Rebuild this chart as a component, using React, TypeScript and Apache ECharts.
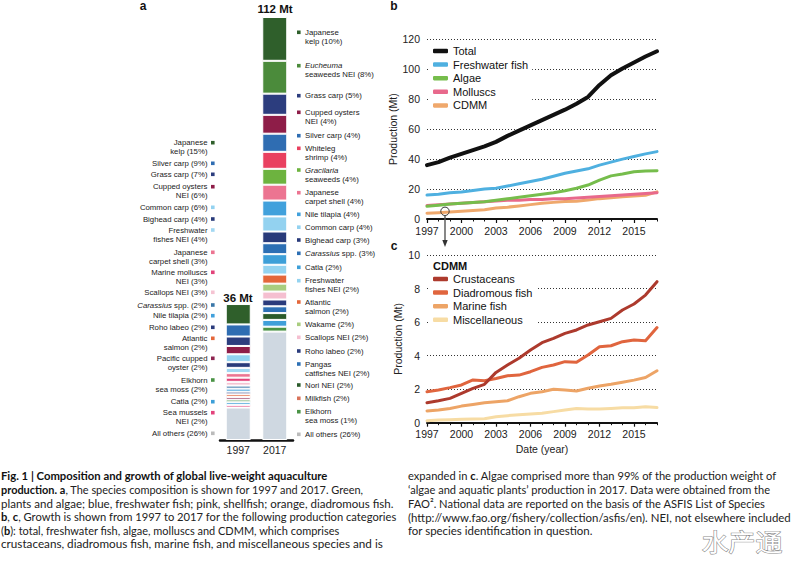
import React, { useEffect, useRef } from 'react';
import * as echarts from 'echarts';

// ---------- DATA ----------
const years = ['1997','1998','1999','2000','2001','2002','2003','2004','2005','2006','2007','2008','2009','2010','2011','2012','2013','2014','2015','2016','2017'];

const totalProd = [36, 38, 41, 43.5, 46, 48.5, 51.5, 55.5, 59, 62.5, 66, 69.5, 73, 77, 81.5, 89.5, 96, 100.5, 104.5, 108.5, 112];
const freshwaterFish = [16, 16.5, 17.5, 18, 19, 20, 20.5, 22, 23.5, 25, 26.5, 28.5, 30.5, 32, 33.5, 36, 38, 40, 41.7, 43.5, 45];
const algae = [8.5, 9.2, 10, 10.5, 11, 11.5, 12.5, 13.5, 14.5, 15.5, 16.5, 17.5, 18.9, 20.5, 22.7, 26, 28.8, 30, 31.5, 32, 32.3];
const molluscs = [9, 9.5, 10, 10.5, 11, 11.5, 12, 12.5, 12.5, 13, 13, 13.5, 13.5, 14, 14.5, 15, 15.5, 16, 16.5, 17, 17.5];
const cdmm = [3.9, 4.2, 4.6, 5.2, 5.7, 6.2, 7.3, 7.9, 8.7, 9.6, 10.5, 11.1, 11.7, 11.9, 12.7, 13.6, 14.2, 14.9, 15.4, 15.9, 18.1];

const crustaceans = [1.19, 1.31, 1.45, 1.75, 2.05, 2.29, 3.0, 3.44, 3.84, 4.33, 4.77, 5.03, 5.33, 5.53, 5.83, 6.02, 6.22, 6.72, 7.08, 7.61, 8.41];
const diadromousFish = [1.85, 1.95, 2.09, 2.25, 2.55, 2.5, 2.64, 2.8, 2.84, 3.04, 3.3, 3.44, 3.64, 3.6, 4.04, 4.53, 4.59, 4.83, 4.93, 4.89, 5.67];
const marineFish = [0.7, 0.76, 0.85, 0.99, 1.09, 1.19, 1.25, 1.31, 1.55, 1.75, 1.85, 1.99, 1.95, 1.89, 2.05, 2.19, 2.29, 2.41, 2.54, 2.7, 3.1];
const miscellaneous = [0.12, 0.16, 0.18, 0.2, 0.22, 0.24, 0.36, 0.42, 0.48, 0.52, 0.56, 0.66, 0.76, 0.85, 0.82, 0.82, 0.85, 0.89, 0.89, 0.95, 0.9];

const barYears = ['1997', '2017'];
const barTotals = ['36 Mt', '112 Mt'];

// 1997 composition, top to bottom
const species1997 = ['Japanese kelp','Silver carp','Grass carp','Cupped oysters NEI','Common carp','Bighead carp','Freshwater fishes NEI','Japanese carpet shell','Marine molluscs NEI','Scallops NEI','Carassius spp.','Nile tilapia','Roho labeo','Atlantic salmon','Pacific cupped oyster','Elkhorn sea moss','Catla','Sea mussels NEI','All others'];
const values1997 = [5.4, 3.2, 2.5, 2.2, 2.1, 1.5, 1.4, 1.2, 1.1, 1.0, 0.8, 0.8, 0.7, 0.7, 0.7, 0.7, 0.7, 0.7, 8.6];
const labels1997 = ['Japanese\nkelp (15%)','Silver carp (9%)','Grass carp (7%)','Cupped oysters\nNEI (6%)','Common carp (6%)','Bighead carp (4%)','Freshwater\nfishes NEI (4%)','Japanese\ncarpet shell (3%)','Marine molluscs\nNEI (3%)','Scallops NEI (3%)','*Carassius* spp. (2%)','Nile tilapia (2%)','Roho labeo (2%)','Atlantic\nsalmon (2%)','Pacific cupped\noyster (2%)','Elkhorn\nsea moss (2%)','Catla (2%)','Sea mussels\nNEI (2%)','All others (26%)'];

// 2017 composition, top to bottom
const species2017 = ['Japanese kelp','Eucheuma seaweeds NEI','Grass carp','Cupped oysters NEI','Silver carp','Whiteleg shrimp','Gracilaria seaweeds','Japanese carpet shell','Nile tilapia','Common carp','Bighead carp','Carassius spp.','Catla','Freshwater fishes NEI','Atlantic salmon','Wakame','Scallops NEI','Roho labeo','Pangas catfishes NEI','Nori NEI','Milkfish','Elkhorn sea moss','All others'];
const values2017 = [11.6, 8.7, 5.6, 5.0, 4.8, 4.5, 4.2, 4.2, 4.2, 4.0, 3.1, 2.9, 2.8, 2.6, 2.4, 2.1, 2.1, 1.8, 1.8, 1.8, 1.8, 1.3, 28.7];
const labels2017 = ['Japanese\nkelp (10%)','*Eucheuma*\nseaweeds NEI (8%)','Grass carp (5%)','Cupped oysters\nNEI (4%)','Silver carp (4%)','Whiteleg\nshrimp (4%)','*Gracilaria*\nseaweeds (4%)','Japanese\ncarpet shell (4%)','Nile tilapia (4%)','Common carp (4%)','Bighead carp (3%)','*Carassius* spp. (3%)','Catla (2%)','Freshwater\nfishes NEI (2%)','Atlantic\nsalmon (2%)','Wakame (2%)','Scallops NEI (2%)','Roho labeo (2%)','Pangas\ncatfishes NEI (2%)','Nori NEI (2%)','Milkfish (2%)','Elkhorn\nsea moss (1%)','All others (26%)'];

// ---------- STYLES / LAYOUT ----------
const colors1997 = ['#2f5f2b','#2f6db2','#2c3d7e','#8e1d48','#93d2f0','#283a7a','#a2d8f2','#ec7491','#e2437a','#f5c3d2','#3a77a8','#41a1dc','#2a3b7c','#e4673a','#8e2450','#4a9345','#3d9fd8','#e3437c','#cfd8e1'];
const colors2017 = ['#2f5f2b','#4b8b3b','#2c3d7e','#8e1d48','#2f6db2','#e9405f','#6db33f','#ec7491','#41a1dc','#93d2f0','#283a7a','#2c6fb4','#3d9fd8','#94d3f0','#e4673a','#a9cd7f','#f5bfd0','#2a3b7c','#2d70b5','#2b5b2b','#3f9fd9','#4a9345','#cfd8e1'];
const markerOverride2017: Record<number, string> = { 20: '#d9735a', 22: '#bbbbbb' };
const markerOverride1997: Record<number, string> = { 18: '#bbbbbb' };

const labelY1997 = [142.7, 163.3, 174.3, 186.7, 207.3, 219, 230, 252.3, 272.3, 292.3, 305, 315.7, 327.3, 338.3, 358.3, 380, 401.7, 412.7, 433.3];
const labelY2017 = [32.3, 65.7, 95.7, 112.3, 135.7, 148.3, 170, 192.7, 214.3, 227.2, 240, 253.3, 267.3, 280.7, 302, 324.3, 337.3, 351, 364, 385, 398.3, 411.7, 434.3];

const FONT = 'Liberation Sans, Arial, Helvetica, sans-serif';
const CAP_FONT = 'Lato';
const CAP_SIZE = 12;

type Seg = [string, string];
const captionLeft: Seg[][] = [
  [['b', 'Fig. 1 | Composition and growth of global live-weight aquaculture']],
  [['b', 'production. a'], ['n', ', The species composition is shown for 1997 and 2017. Green,']],
  [['n', 'plants and algae; blue, freshwater fish; pink, shellfish; orange, diadromous fish.']],
  [['b', 'b'], ['n', ', '], ['b', 'c'], ['n', ', Growth is shown from 1997 to 2017 for the following production categories']],
  [['n', '('], ['b', 'b'], ['n', '): total, freshwater fish, algae, molluscs and CDMM, which comprises']],
  [['n', 'crustaceans, diadromous fish, marine fish, and miscellaneous species and is']],
];
const captionRight: Seg[][] = [
  [['n', 'expanded in '], ['b', 'c'], ['n', '. Algae comprised more than 99% of the production weight of']],
  [['n', '\u2018algae and aquatic plants\u2019 production in 2017. Data were obtained from the']],
  [['n', 'FAO\u00b2. National data are reported on the basis of the ASFIS List of Species']],
  [['n', '(http://www.fao.org/fishery/collection/asfis/en). NEI, not elsewhere included']],
  [['n', 'for species identification in question.']],
];
const capLeftWidths = [327, 363, 393, 396, 339, 382];
const capRightWidths = [369, 363, 358, 383, 185];
const capLineY = [475, 489, 503, 516.5, 530, 543];

function measureSegs(segs: Seg[]): number {
  try {
    const ctx = document.createElement('canvas').getContext('2d');
    if (!ctx) return 0;
    let w = 0;
    for (const [s, t] of segs) {
      ctx.font = `${s === 'b' ? 'bold ' : ''}${CAP_SIZE}px ${CAP_FONT}`;
      w += ctx.measureText(t).width;
    }
    return w;
  } catch (e) {
    return 0;
  }
}

function richLabel(label: string): string {
  return label
    .split('\n')
    .map((line) =>
      line
        .split('*')
        .map((part, i) => (part ? `{${i % 2 === 1 ? 'i' : 'n'}|${part}}` : ''))
        .join('')
    )
    .join('\n');
}

const labelRich = {
  n: { fontSize: 7.8, fontFamily: FONT, lineHeight: 9, fill: '#222', color: '#222' },
  i: { fontSize: 7.8, fontFamily: FONT, lineHeight: 9, fill: '#222', color: '#222', fontStyle: 'italic' },
};

function buildOption() {
  const graphic: any[] = [];

  const letter = (x: number, y: number, t: string) =>
    graphic.push({
      type: 'text', x, y, z: 50,
      style: { text: t, fontSize: 12, fontWeight: 'bold', fontFamily: FONT, fill: '#111', textAlign: 'center', align: 'center', textVerticalAlign: 'middle', verticalAlign: 'middle' },
    });
  letter(143, 6, 'a');
  letter(394, 6, 'b');
  letter(394, 246, 'c');

  const totX = [238, 275];
  const totY = [297.5, 9];
  barTotals.forEach((t, i) =>
    graphic.push({
      type: 'text', x: totX[i], y: totY[i], z: 50,
      style: { text: t, fontSize: 11.5, fontWeight: 'bold', fontFamily: FONT, fill: '#111', textAlign: 'center', align: 'center', textVerticalAlign: 'middle', verticalAlign: 'middle' },
    })
  );

  labels1997.forEach((lab, i) => {
    const y = labelY1997[i];
    graphic.push({
      type: 'text', x: 207.5, y: y - 4.5, z: 50,
      style: { text: richLabel(lab), rich: labelRich, fontSize: 7.8, fontFamily: FONT, fill: '#222', textAlign: 'right', align: 'right', textVerticalAlign: 'top', verticalAlign: 'top' },
    });
    graphic.push({
      type: 'rect', z: 50, shape: { x: 211, y: y - 1.8, width: 3.6, height: 3.6 },
      style: { fill: markerOverride1997[i] || colors1997[i] },
    });
  });
  labels2017.forEach((lab, i) => {
    const y = labelY2017[i];
    graphic.push({
      type: 'text', x: 305, y: y - 4.5, z: 50,
      style: { text: richLabel(lab), rich: labelRich, fontSize: 7.8, fontFamily: FONT, fill: '#222', textAlign: 'left', align: 'left', textVerticalAlign: 'top', verticalAlign: 'top' },
    });
    graphic.push({
      type: 'rect', z: 50, shape: { x: 297, y: y - 1.8, width: 3.6, height: 3.6 },
      style: { fill: markerOverride2017[i] || colors2017[i] },
    });
  });

  graphic.push({
    type: 'text', x: 433, y: 265.5, z: 50,
    style: { text: 'CDMM', fontSize: 11, fontWeight: 'bold', fontFamily: FONT, fill: '#111', textAlign: 'left', align: 'left', textVerticalAlign: 'middle', verticalAlign: 'middle' },
  });

  graphic.push({ type: 'circle', z: 60, shape: { cx: 445, cy: 211.3, r: 4.2 }, style: { fill: 'none', stroke: '#333', lineWidth: 1 } });
  graphic.push({ type: 'line', z: 60, shape: { x1: 445, y1: 215.5, x2: 445, y2: 242 }, style: { stroke: '#555', lineWidth: 1.4 } });
  graphic.push({ type: 'polygon', z: 60, shape: { points: [[442.3, 240], [447.7, 240], [445, 247]] }, style: { fill: '#333' } });

  const rich = {
    n: { fontFamily: CAP_FONT, fontSize: CAP_SIZE, fill: '#222', color: '#222' },
    b: { fontFamily: CAP_FONT, fontSize: CAP_SIZE, fontWeight: 'bold', fill: '#111', color: '#111' },
  };
  const addCaption = (lines: Seg[][], widths: number[], x0: number) => {
    lines.forEach((segs, i) => {
      const w = measureSegs(segs);
      const sx = w > 0 ? widths[i] / w : 0.88;
      graphic.push({
        type: 'text', x: x0, y: capLineY[i], scaleX: sx, z: 50,
        style: {
          text: segs.map(([s, t]) => `{${s}|${t}}`).join(''),
          rich, fontFamily: CAP_FONT, fontSize: CAP_SIZE, fill: '#222',
          textAlign: 'left', align: 'left', textVerticalAlign: 'middle', verticalAlign: 'middle',
        },
      });
    });
  };
  addCaption(captionLeft, capLeftWidths, 1);
  addCaption(captionRight, capRightWidths, 408);

  graphic.push({
    type: 'text', x: 742, y: 540, scaleX: 1.12, z: 50,
    style: { text: '水产通', fontFamily: 'Noto Sans CJK SC', fontSize: 24, fill: '#ffffff', stroke: '#8a8a8a', lineWidth: 1.1, textAlign: 'center', align: 'center', textVerticalAlign: 'middle', verticalAlign: 'middle' },
  });

  const series: any[] = [];
  const addYear = (cat: string, names: string[], vals: number[], cols: string[]) => {
    for (let i = names.length - 1; i >= 0; i--) {
      series.push({
        type: 'bar', name: names[i], xAxisIndex: 0, yAxisIndex: 0, stack: 'composition', barWidth: 25, silent: true,
        data: barYears.map((y) => (y === cat ? vals[i] : '-')),
        itemStyle: { color: cols[i], borderColor: '#ffffff', borderWidth: 1 },
      });
    }
  };
  addYear('1997', species1997, values1997, colors1997);
  addYear('2017', species2017, values2017, colors2017);

  const line = (name: string, data: number[], color: string, width: number, xi: number, yi: number) => ({
    type: 'line', name, data, xAxisIndex: xi, yAxisIndex: yi, showSymbol: false, symbol: 'none', silent: true,
    color, itemStyle: { color }, lineStyle: { color, width, cap: 'round', join: 'round' },
  });

  series.push(line('CDMM', cdmm, '#efa86c', 3, 1, 1));
  series.push(line('Molluscs', molluscs, '#e8698c', 3, 1, 1));
  series.push(line('Algae', algae, '#76bd4c', 3, 1, 1));
  series.push(line('Freshwater fish', freshwaterFish, '#4fb0e0', 3, 1, 1));
  series.push(line('Total', totalProd, '#111111', 4, 1, 1));

  series.push(line('Miscellaneous', miscellaneous, '#f7dca4', 3, 3, 2));
  series.push(line('Marine fish', marineFish, '#eda466', 3, 3, 2));
  series.push(line('Diadromous fish', diadromousFish, '#e0653e', 3, 3, 2));
  series.push(line('Crustaceans', crustaceans, '#ad3a2d', 3, 3, 2));

  const axisLabel = { fontSize: 10.5, color: '#222', fontFamily: FONT };
  const majorX = (grid: number, extra: any = {}) => ({
    type: 'category', gridIndex: grid, data: years, boundaryGap: false, position: 'bottom',
    axisLine: { lineStyle: { color: '#111', width: 2 } },
    axisTick: { interval: 2, length: 4, lineStyle: { color: '#111', width: 1.2 } },
    axisLabel: { ...axisLabel, interval: 2, margin: 6 },
    splitLine: { show: false },
    ...extra,
  });
  const minorX = (grid: number) => ({
    type: 'category', gridIndex: grid, data: years, boundaryGap: false, position: 'bottom',
    axisLine: { show: false },
    axisTick: { interval: 0, length: 2.5, lineStyle: { color: '#111', width: 1 } },
    axisLabel: { show: false },
    splitLine: { show: false },
  });
  const valY = (grid: number, max: number, interval: number) => ({
    type: 'value', gridIndex: grid, min: 0, max, interval,
    name: 'Production (Mt)', nameLocation: 'middle', nameGap: 24,
    nameTextStyle: { fontSize: 10.5, color: '#222', fontFamily: FONT },
    axisLine: { show: false }, axisTick: { show: false },
    axisLabel: { ...axisLabel, margin: 7 },
    splitLine: { show: true, lineStyle: { color: '#333', width: 1, type: [1, 2] } },
  });

  return {
    animation: false,
    backgroundColor: '#ffffff',
    textStyle: { fontFamily: FONT },
    grid: [
      { left: 220, top: 17, width: 73, height: 423 },
      { left: 427, top: 39.3, width: 230, height: 179.7 },
      { left: 427, top: 255, width: 230, height: 167.7 },
    ],
    xAxis: [
      {
        type: 'category', gridIndex: 0, data: barYears,
        axisLine: { lineStyle: { color: '#111', width: 2.5 } },
        axisTick: { show: false },
        axisLabel: { ...axisLabel, fontSize: 10.5, margin: 4 },
      },
      majorX(1),
      minorX(1),
      majorX(2, { name: 'Date (year)', nameLocation: 'middle', nameGap: 21, nameTextStyle: { fontSize: 10.5, color: '#222', fontFamily: FONT } }),
      minorX(2),
    ],
    yAxis: [
      { type: 'value', gridIndex: 0, min: 0, max: 112, show: false },
      valY(1, 120, 20),
      valY(2, 10, 2),
    ],
    legend: [
      {
        data: ['Total', 'Freshwater fish', 'Algae', 'Molluscs', 'CDMM'],
        orient: 'vertical', left: 430, top: 43, itemWidth: 15, itemHeight: 4.5, icon: 'roundRect',
        itemGap: 1.6, padding: [2, 4, 2, 3], backgroundColor: '#ffffff', selectedMode: false,
        textStyle: { fontSize: 11, fontFamily: FONT, color: '#111', lineHeight: 12 },
      },
      {
        data: ['Crustaceans', 'Diadromous fish', 'Marine fish', 'Miscellaneous'],
        orient: 'vertical', left: 430, top: 271, itemWidth: 15, itemHeight: 4.5, icon: 'roundRect',
        itemGap: 1.6, padding: [2, 4, 2, 3], backgroundColor: '#ffffff', selectedMode: false,
        textStyle: { fontSize: 11, fontFamily: FONT, color: '#111', lineHeight: 12 },
      },
    ],
    series,
    graphic: { elements: graphic },
  };
}

export default function App() {
  const ref = useRef<HTMLDivElement>(null);
  useEffect(() => {
    if (!ref.current) return;
    const chart = echarts.init(ref.current, null, { renderer: 'svg' });
    chart.setOption(buildOption() as any);
    return () => chart.dispose();
  }, []);
  return (
    <div
      ref={ref}
      style={{ position: 'fixed', left: 0, top: 0, width: 802, height: 566, background: '#ffffff' }}
    />
  );
}
